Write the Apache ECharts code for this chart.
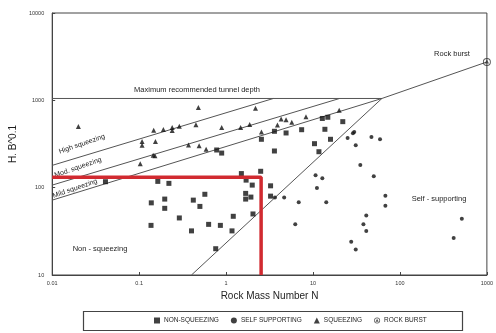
<!DOCTYPE html>
<html>
<head>
<meta charset="utf-8">
<script src="https://cdn.jsdelivr.net/npm/echarts@6/dist/echarts.min.js"></script>
<style>
  html, body { margin: 0; padding: 0; background: #fff; }
  #chart { width: 496px; height: 333px; }
</style>
</head>
<body>
<div id="chart"></div>
<script>
// Tick labels for the two log axes
const xTickLabels = ['0.01', '0.1', '1', '10', '100', '1000'];
const yTickLabels = ['10', '100', '1000', '10000'];

// Case histories: [rock mass number N, H.B^0.1]
const nonSqueezing = [
  [3.6, 442], [4.9, 423], [7.4, 461], [2.55, 358], [10.4, 319], [11.7, 258],
  [3.6, 263], [0.78, 270], [0.89, 249], [1.5, 145], [2.5, 154], [12.8, 620],
  [14.8, 640], [22, 570], [13.7, 466], [15.9, 358], [0.041, 117], [0.164, 118],
  [0.22, 112], [0.138, 67], [0.197, 74], [0.197, 58], [0.42, 72], [0.57, 84],
  [0.50, 61], [0.29, 45], [0.137, 37], [0.40, 32], [0.63, 38], [0.86, 37],
  [1.17, 32], [1.21, 47], [0.76, 20], [1.7, 122], [2.0, 107], [1.68, 86],
  [1.68, 74], [1.93, 78], [3.25, 105], [3.25, 80], [2.04, 50]
];
const selfSupporting = [
  [28.8, 419], [29.8, 434], [25, 370], [31, 306], [47, 380], [59, 358],
  [35, 182], [10.7, 139], [12.8, 128], [50, 135], [11.1, 99], [14.2, 68],
  [6.85, 68], [4.66, 77], [3.65, 77], [6.25, 38], [68, 81], [68, 62],
  [41, 48], [38, 38], [41, 32], [27.5, 24], [31, 19.6], [515, 44], [415, 26.5]
];
const squeezing = [
  [0.02, 500], [0.48, 830], [0.147, 455], [0.19, 465], [0.24, 490], [0.24, 450],
  [0.29, 505], [0.45, 525], [0.89, 490], [1.47, 490], [1.87, 530], [2.18, 810],
  [0.108, 338], [0.108, 306], [0.154, 338], [0.37, 308], [0.49, 301], [0.59, 276],
  [0.145, 235], [0.152, 232], [0.103, 188], [4.3, 610], [4.9, 600], [3.9, 522],
  [5.7, 560], [8.3, 650], [2.55, 434], [20, 770]
];
const rockBurst = [[1000, 2750]];

// Zone boundaries
const maxDepthLine = [[0.01, 1050], [62, 1050]];
const highSqueezingLine = [[0.01, 180], [3.5, 1050]];
const modSqueezingLine = [[0.01, 107], [20.2, 1050]];
const squeezingLine = [[0.01, 72], [62, 1050]];
const rockBurstLine = [[62, 1050], [1000, 2750]];
const selfSupportLine = [[0.4, 10], [62, 1050]];

// Highlighted region
const markerLine = [[0.01, 132], [2.53, 132], [2.53, 10]];

const FONT = 'Liberation Sans';
const INK = '#1e1e1e';
const rockBurstIcon = 'path://M0,-10A10,10 0 1,1 0,10A10,10 0 1,1 0,-10Z M0,-7.6A7.6,7.6 0 1,0 0,7.6A7.6,7.6 0 1,0 0,-7.6Z M0,-6L5.4,3.8L-5.4,3.8Z';

function boundary(data) {
  return {
    type: 'line', data: data, showSymbol: false, silent: true, z: 3,
    lineStyle: { color: '#555', width: 1 }, legendHoverLink: false
  };
}

function label(text, x, y, rot, size) {
  return {
    type: 'text', x: x, y: y, rotation: rot || 0, z: 1, silent: true,
    style: {
      text: text, fill: INK, font: (size || 7.5) + 'px "' + FONT + '"',
      align: 'center', verticalAlign: 'middle'
    }
  };
}

const chart = echarts.init(document.getElementById('chart'), null, { renderer: 'canvas' });
chart.setOption({
  animation: false,
  backgroundColor: '#fff',
  grid: { left: 49, right: 8, top: 13, bottom: 58, show: true, borderColor: '#444', borderWidth: 1 },
  xAxis: {
    type: 'log', logBase: 10, min: 0.01, max: 1000,
    name: 'Rock Mass Number N', nameLocation: 'middle', nameGap: 12,
    nameTextStyle: { fontFamily: FONT, fontSize: 10, color: INK },
    axisLine: { lineStyle: { color: '#444', width: 1 } },
    axisTick: { inside: true, length: 3, lineStyle: { color: '#444' } },
    splitLine: { show: false },
    axisLabel: {
      fontFamily: FONT, fontSize: 5.5, color: '#333', margin: 5,
      formatter: v => xTickLabels[Math.round(Math.log10(v)) + 2] || ''
    }
  },
  yAxis: {
    type: 'log', logBase: 10, min: 10, max: 10000,
    name: 'H. B^0.1', nameLocation: 'middle', nameGap: 30, nameRotate: 90,
    nameTextStyle: { fontFamily: FONT, fontSize: 10, color: INK },
    axisLine: { lineStyle: { color: '#444', width: 1 } },
    axisTick: { inside: true, length: 3, lineStyle: { color: '#444' } },
    splitLine: { show: false },
    axisLabel: {
      fontFamily: FONT, fontSize: 5.5, color: '#333', margin: 8,
      formatter: v => yTickLabels[Math.round(Math.log10(v)) - 1] || ''
    }
  },
  legend: {
    left: 149, top: 312, itemWidth: 6, itemHeight: 6, itemGap: 12,
    textStyle: { fontFamily: FONT, fontSize: 6.5, color: INK, padding: [0, 0, 0, -1] },
    data: [
      { name: 'NON-SQUEEZING', icon: 'rect' },
      { name: 'SELF SUPPORTING', icon: 'circle' },
      { name: 'SQUEEZING', icon: 'triangle' },
      { name: 'ROCK BURST', icon: rockBurstIcon }
    ]
  },
  graphic: [
    { type: 'rect', z: 0, silent: true, shape: { x: 83.5, y: 311.5, width: 379, height: 19 },
      style: { fill: 'none', stroke: '#444', lineWidth: 1.2 } },
    label('Maximum recommended tunnel depth', 197, 90, 0, 7.5),
    label('Rock burst', 452, 54, 0, 7.5),
    label('High squeezing', 82, 144, 0.33, 7),
    label('Mod. squeezing', 78, 167.5, 0.33, 7),
    label('Mild squeezing', 75, 188.5, 0.33, 7),
    label('Non - squeezing', 100, 249, 0, 7.5),
    label('Self - supporting', 439, 199, 0, 7.5)
  ],
  series: [
    boundary(maxDepthLine),
    boundary(highSqueezingLine),
    boundary(modSqueezingLine),
    boundary(squeezingLine),
    boundary(rockBurstLine),
    boundary(selfSupportLine),
    {
      name: 'NON-SQUEEZING', type: 'scatter', data: nonSqueezing, symbol: 'rect',
      symbolSize: 5, itemStyle: { color: '#111' }, z: 4
    },
    {
      name: 'SELF SUPPORTING', type: 'scatter', data: selfSupporting, symbol: 'circle',
      symbolSize: 4, itemStyle: { color: '#111' }, z: 4
    },
    {
      name: 'SQUEEZING', type: 'scatter', data: squeezing, symbol: 'triangle',
      symbolSize: 5, itemStyle: { color: '#111' }, z: 4
    },
    {
      name: 'ROCK BURST', type: 'scatter', data: rockBurst, symbol: rockBurstIcon,
      symbolSize: 8, clip: false, itemStyle: { color: '#333' }, z: 4
    },
    {
      type: 'line', data: markerLine, showSymbol: false, silent: true, z: 10,
      lineStyle: { color: '#d12a30', width: 3.5 }, legendHoverLink: false
    }
  ]
});
</script>
</body>
</html>
